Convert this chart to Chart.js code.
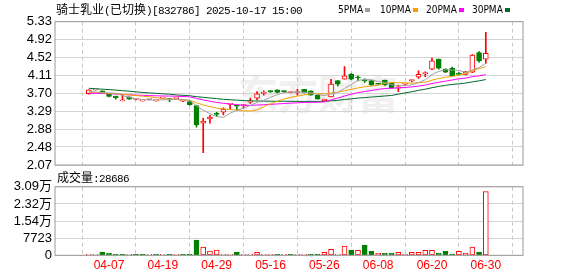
<!DOCTYPE html>
<html><head><meta charset="utf-8">
<script src="https://cdn.jsdelivr.net/npm/chart.js@4.4.1/dist/chart.umd.min.js"></script>
<style>
html,body{margin:0;padding:0;background:#fff;width:578px;height:276px;overflow:hidden;position:relative}
canvas{position:absolute;left:0}
#c1{top:0}
#c2{top:176px}
.t{position:absolute;white-space:nowrap;color:#000}
.cj{font-family:"Noto Sans CJK SC";font-size:12px}
.mo{font-family:"Liberation Mono";font-size:11px;letter-spacing:-0.6px}
.lg{position:absolute;font-family:"DejaVu Sans Condensed","DejaVu Sans";font-size:10px;line-height:12px;top:4px;color:#000}
.sq{position:absolute;top:7.5px;width:5px;height:4.5px}
#wm{position:absolute;left:238px;top:70px;font-family:"Noto Sans CJK SC";font-size:40px;line-height:44px;font-weight:bold;color:#f0f0f0;letter-spacing:0px}
</style></head><body>
<div id="wm">东方财富</div>
<canvas id="c1" width="578" height="176"></canvas>
<canvas id="c2" width="578" height="100"></canvas>
<div class="t" style="left:56px;top:1px;line-height:16px"><span class="cj">骑士乳业</span><span class="mo">(</span><span class="cj">已切换</span><span class="mo">)[832786] 2025-10-17 15:00</span></div>
<div class="lg" style="left:338px">5PMA</div><div class="sq" style="left:365px;background:#a0a0a0"></div>
<div class="lg" style="left:380px">10PMA</div><div class="sq" style="left:413px;background:#f5a000"></div>
<div class="lg" style="left:426px">20PMA</div><div class="sq" style="left:459px;background:#ff00ff"></div>
<div class="lg" style="left:472px">30PMA</div><div class="sq" style="left:505px;background:#006a2a"></div>
<div class="t" style="left:57px;top:169px;line-height:16px"><span class="cj">成交量</span><span class="mo">:28686</span></div>
<script>
const dates = ['03-31','04-01','04-06','04-07','04-08','04-11','04-12','04-13','04-14','04-15','04-18','04-19','04-20','04-21','04-22','04-25','04-26','04-27','04-28','04-29','05-05','05-06','05-09','05-10','05-11','05-12','05-13','05-16','05-17','05-18','05-19','05-20','05-23','05-24','05-25','05-26','05-27','05-30','05-31','06-01','06-02','06-06','06-07','06-08','06-09','06-10','06-13','06-14','06-15','06-16','06-17','06-20','06-21','06-22','06-23','06-24','06-27','06-28','06-29','06-30'];
const xTickLabels = ['04-07','04-19','04-29','05-16','05-26','06-08','06-20','06-30'];
const priceTicks = [2.07,2.48,2.88,3.29,3.70,4.11,4.52,4.92,5.33];
const volTicks = [0,7723,15446,23169,30892];

const open = [3.69,3.78,3.76,3.68,3.64,3.53,3.62,3.56,3.53,3.56,
  3.53,3.59,3.58,3.58,3.52,3.51,3.42,3.02,3.12,3.23,
  3.27,3.45,3.42,3.42,3.50,3.59,3.70,3.75,3.78,3.75,
  3.72,3.72,3.79,3.76,3.66,3.53,3.62,3.99,4.02,4.14,
  4.07,3.99,3.99,3.92,4.00,3.93,3.82,3.91,3.99,4.07,
  4.15,4.25,4.48,4.25,4.27,4.16,4.13,4.18,4.63,4.48];
const close = [3.78,3.78,3.72,3.63,3.60,3.53,3.57,3.56,3.53,3.56,
  3.53,3.59,3.56,3.58,3.52,3.44,2.98,3.07,3.16,3.22,
  3.34,3.45,3.41,3.42,3.50,3.69,3.70,3.74,3.72,3.74,
  3.72,3.72,3.72,3.66,3.57,3.57,3.91,3.91,4.10,4.02,
  4.05,3.98,3.89,3.91,3.89,3.82,3.85,3.92,3.99,4.13,
  4.16,4.44,4.27,4.18,4.10,4.13,4.19,4.57,4.44,4.61];
const high = [3.78,3.79,3.76,3.69,3.64,3.66,3.62,3.57,3.53,3.56,
  3.53,3.60,3.58,3.58,3.52,3.52,3.43,3.13,3.20,3.27,
  3.37,3.45,3.42,3.45,3.59,3.74,3.76,3.76,3.78,3.76,
  3.73,3.79,3.79,3.76,3.66,3.57,4.02,3.99,4.31,4.15,
  4.10,4.03,3.99,3.93,4.00,3.93,3.89,3.93,4.01,4.21,
  4.19,4.50,4.48,4.26,4.30,4.17,4.20,4.58,4.65,5.09];
const low = [3.68,3.77,3.71,3.62,3.57,3.53,3.56,3.55,3.52,3.55,
  3.52,3.58,3.51,3.57,3.51,3.43,2.93,2.35,3.02,3.17,
  3.21,3.34,3.32,3.37,3.47,3.55,3.66,3.72,3.71,3.73,
  3.71,3.66,3.71,3.66,3.57,3.53,3.62,3.87,4.02,4.01,
  3.98,3.95,3.88,3.89,3.88,3.82,3.74,3.90,3.96,4.04,
  4.08,4.24,4.25,4.17,4.10,4.12,4.12,4.17,4.41,4.38];
const volume = [350,300,1500,1000,400,350,350,300,350,300,
  350,300,350,300,350,400,6830,3700,1930,2380,
  450,450,1500,400,450,1340,400,400,350,400,
  400,400,400,400,400,1340,2670,600,4160,2380,
  2230,4600,1780,890,890,890,1340,500,1340,1340,
  2230,2230,1040,1780,600,1780,890,3700,1480,28686];
const ma5 = [3.74,3.73,3.72,3.71,3.70,3.65,3.61,3.578,3.558,3.55,
  3.55,3.554,3.554,3.564,3.556,3.538,3.416,3.318,3.234,3.174,
  3.154,3.248,3.316,3.368,3.424,3.494,3.544,3.61,3.67,3.718,
  3.724,3.728,3.724,3.712,3.678,3.648,3.686,3.724,3.812,3.902,
  3.998,4.012,4.008,3.97,3.944,3.898,3.872,3.878,3.894,3.942,
  4.01,4.128,4.198,4.236,4.23,4.224,4.174,4.234,4.286,4.388];
const ma10 = [3.73,3.72,3.71,3.70,3.69,3.68,3.665,3.65,3.635,3.625,
  3.60,3.582,3.566,3.561,3.553,3.544,3.485,3.436,3.399,3.365,
  3.346,3.332,3.317,3.301,3.299,3.324,3.396,3.463,3.519,3.571,
  3.609,3.636,3.667,3.691,3.698,3.686,3.707,3.724,3.762,3.79,
  3.823,3.849,3.866,3.891,3.923,3.948,3.941,3.942,3.932,3.943,
  3.954,4.00,4.038,4.065,4.086,4.117,4.151,4.216,4.261,4.309];
const ma20 = [3.70,3.70,3.695,3.69,3.685,3.675,3.665,3.66,3.655,3.65,
  3.645,3.64,3.638,3.635,3.628,3.62,3.585,3.55,3.52,3.495,
  3.473,3.457,3.442,3.431,3.426,3.434,3.441,3.45,3.459,3.468,
  3.478,3.484,3.492,3.496,3.499,3.505,3.552,3.593,3.64,3.68,
  3.716,3.742,3.766,3.791,3.81,3.817,3.824,3.833,3.847,3.866,
  3.888,3.924,3.952,3.978,4.004,4.032,4.046,4.08,4.097,4.126];
const ma30 = [3.815,3.805,3.795,3.785,3.775,3.76,3.75,3.735,3.72,3.71,
  3.70,3.69,3.68,3.665,3.655,3.645,3.625,3.61,3.595,3.58,
  3.565,3.555,3.545,3.535,3.53,3.525,3.522,3.521,3.52,3.52,
  3.518,3.517,3.517,3.518,3.517,3.518,3.529,3.541,3.56,3.575,
  3.592,3.605,3.616,3.627,3.64,3.652,3.681,3.71,3.737,3.768,
  3.795,3.828,3.857,3.882,3.902,3.917,3.933,3.961,3.985,4.014];

const RED = '#ff0000', GREEN = '#008000';
const tickIdx = xTickLabels.map(l => dates.indexOf(l));
const up = open.map((o, i) => close[i] >= o);
const volUp = close.map((c, i) => i === 0 ? true : c >= close[i - 1]);
const pts = arr => arr.map((v, i) => ({x: i, y: v}));

const frame = {
  id: 'frame',
  afterDatasetsDraw(chart) {
    const {ctx, chartArea: a} = chart;
    ctx.save();
    ctx.strokeStyle = '#999';
    ctx.lineWidth = 1;
    ctx.strokeRect(a.left, a.top, a.right - a.left, a.bottom - a.top);
    ctx.restore();
  }
};

const xMin = -0.68, xMax = 60.18;
const xScaleBase = (showLabels) => ({
  type: 'linear', min: xMin, max: xMax,
  afterBuildTicks: s => { s.ticks = tickIdx.map(v => ({value: v})); },
  ticks: {
    display: showLabels, autoSkip: false, maxRotation: 0, padding: 3,
    color: RED, font: {family: 'Liberation Sans', size: 12},
    callback: v => dates[v]
  },
  grid: {color: '#c8c8c8', drawTicks: false, lineWidth: 1},
  border: {display: false, dash: [4, 3]}
});

const yFont = {family: "'Liberation Sans','Noto Sans CJK SC'", size: 13};
const maLine = (label, data, color) => ({
  type: 'line', label, data: pts(data), borderColor: color, borderWidth: 1,
  pointRadius: 0, tension: 0, order: 0, fill: false
});

new Chart(document.getElementById('c1'), {
  type: 'bar',
  data: {
    datasets: [
      maLine('5PMA', ma5, '#a0a0a0'),
      maLine('10PMA', ma10, '#f5a000'),
      maLine('20PMA', ma20, '#ff00ff'),
      maLine('30PMA', ma30, '#006a2a'),
      {
        label: 'body', data: open.map((o, i) => ({x: i, y: [o, close[i]]})),
        backgroundColor: up.map(u => u ? '#ffffff' : GREEN),
        borderColor: up.map(u => u ? RED : GREEN),
        borderWidth: 1, borderSkipped: false, barThickness: 5, minBarLength: 1,
        grouped: false, order: 1
      },
      {
        label: 'wick', data: low.map((l, i) => ({x: i, y: [l, high[i]]})),
        backgroundColor: up.map(u => u ? RED : GREEN),
        borderWidth: 0, barThickness: 1, grouped: false, order: 2
      }
    ]
  },
  options: {
    responsive: false, animation: false, events: [],
    layout: {padding: {top: 21.7, right: 55, bottom: 11, left: 0}},
    plugins: {legend: {display: false}, tooltip: {enabled: false}},
    scales: {
      x: Object.assign(xScaleBase(false), {afterFit: s => { s.height = 0; }}),
      y: {
        min: 2.07, max: 5.33,
        afterBuildTicks: s => { s.ticks = priceTicks.map(v => ({value: v})); },
        ticks: {color: '#000', font: yFont, padding: 3, autoSkip: false, callback: v => v.toFixed(2)},
        grid: {color: '#d4d4d4', drawTicks: false},
        border: {display: false},
        afterFit: s => { s.width = 55; }
      }
    }
  },
  plugins: [frame]
});

const fmtVol = v => v >= 10000 ? (v / 10000).toFixed(2) + '万' : String(v);

new Chart(document.getElementById('c2'), {
  type: 'bar',
  data: {
    datasets: [{
      label: 'volume', data: pts(volume),
      backgroundColor: volUp.map(u => u ? '#ffffff' : GREEN),
      borderColor: volUp.map(u => u ? RED : GREEN),
      borderWidth: 1, borderSkipped: false, barThickness: 5, minBarLength: 1,
      grouped: false
    }]
  },
  options: {
    responsive: false, animation: false, events: [],
    layout: {padding: {top: 10, right: 55, bottom: 0, left: 0}},
    plugins: {legend: {display: false}, tooltip: {enabled: false}},
    scales: {
      x: Object.assign(xScaleBase(true), {afterFit: s => { s.height = 20.7; }}),
      y: {
        min: 0, max: 30892,
        afterBuildTicks: s => { s.ticks = volTicks.map(v => ({value: v})); },
        ticks: {color: '#000', font: yFont, padding: 3, autoSkip: false, callback: v => fmtVol(v)},
        grid: {color: '#d4d4d4', drawTicks: false},
        border: {display: false},
        afterFit: s => { s.width = 55; }
      }
    }
  },
  plugins: [frame]
});
</script>
</body></html>
